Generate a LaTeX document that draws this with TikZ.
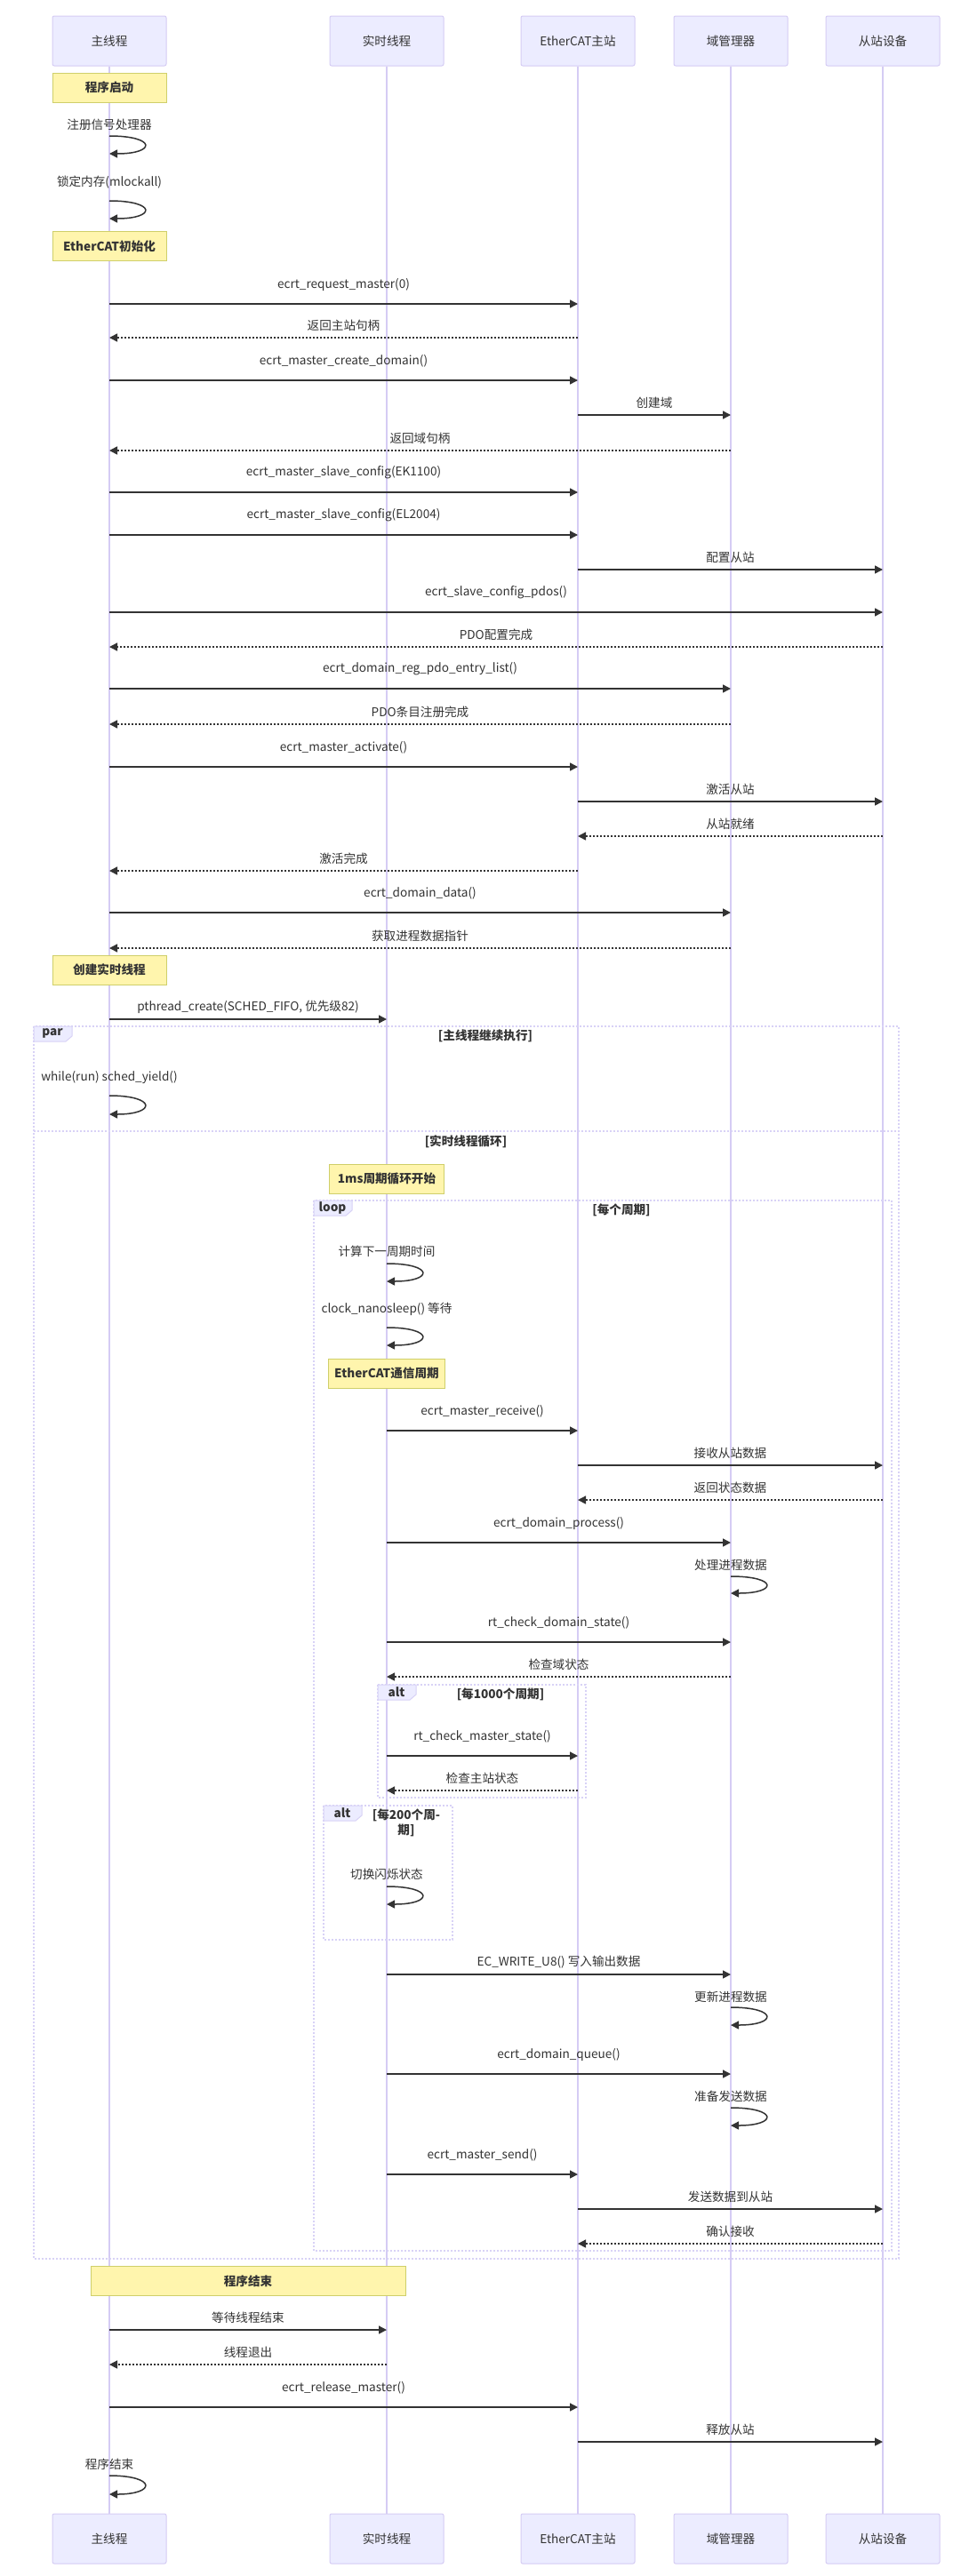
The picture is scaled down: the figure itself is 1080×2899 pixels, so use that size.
\documentclass[tikz,border=0pt]{standalone}
\usepackage{fontspec}
\setmainfont{Noto Sans CJK SC}
\usetikzlibrary{arrows.meta}
\definecolor{actorfill}{HTML}{ECECFF}
\definecolor{actorline}{HTML}{D5CCF4}
\definecolor{notefill}{HTML}{FFF5AD}
\definecolor{noteline}{HTML}{CFCF6A}
\definecolor{framecol}{HTML}{D8D2F6}
\definecolor{ink}{HTML}{333333}

\begin{document}
\begin{tikzpicture}[
        x=1pt, y=-1pt,
        every node/.style={font=\fontsize{13.6}{17}\selectfont, text=ink},
        actor/.style={draw=actorline, line width=1pt, fill=actorfill, rounded corners=2pt,
            minimum width=128pt, minimum height=56pt, inner sep=0pt},
        lifeline/.style={actorline, line width=1.2pt},
        note/.style={draw=noteline, line width=1pt, fill=notefill, minimum height=33pt, inner sep=0pt,
            font=\fontsize{13.6}{17}\selectfont\bfseries},
        msg/.style={ink, line width=1.5pt, -{Triangle[length=9pt,width=9pt]}},
        reply/.style={msg, dash pattern=on 2pt off 2pt},
        call/.style={yshift=22pt, inner sep=0pt},
        txt/.style={yshift=14pt, inner sep=0pt},
        frame/.style={framecol, line width=1.2pt, dash pattern=on 2pt off 2pt},
        tab/.style={draw=framecol, line width=1pt, fill=actorfill},
        tabtext/.style={font=\fontsize{13.6}{17}\selectfont\bfseries},
        cond/.style={align=center, inner sep=0pt, font=\fontsize{13.6}{17}\selectfont\bfseries}
    ]
        \useasboundingbox (0,0) rectangle (1080,2899);
        \fill[white] (0,0) rectangle (1080,2899);

        % Actors and lifelines
        \node[actor] (mainT) at (123,46) {主线程};
        \node[actor] (rtT) at (435,46) {实时线程};
        \node[actor] (ecmT) at (650,46) {EtherCAT主站};
        \node[actor] (domT) at (822,46) {域管理器};
        \node[actor] (slvT) at (993,46) {从站设备};
        \node[actor] (mainB) at (123,2857) {主线程};
        \node[actor] (rtB) at (435,2857) {实时线程};
        \node[actor] (ecmB) at (650,2857) {EtherCAT主站};
        \node[actor] (domB) at (822,2857) {域管理器};
        \node[actor] (slvB) at (993,2857) {从站设备};
        \draw[lifeline] (mainT) -- (mainB);
        \draw[lifeline] (rtT) -- (rtB);
        \draw[lifeline] (ecmT) -- (ecmB);
        \draw[lifeline] (domT) -- (domB);
        \draw[lifeline] (slvT) -- (slvB);

        % Frames
        \draw[frame] (38,1155) rectangle (1011,2542);
        \draw[frame] (38,1273) -- (1011,1273);
        \filldraw[tab] (38,1155) -- ++(43,0) -- ++(0,11) -- ++(-7,6) -- (38,1172) -- cycle;
        \node[tabtext] (parlbl) at (59,1163) {par};
        \node[cond] (par1) at (546,1166) {[主线程继续执行]};
        \node[cond] (par2) at (524,1285) {[实时线程循环]};

        \draw[frame] (353,1351) rectangle (1003,2533);
        \filldraw[tab] (353,1351) -- ++(43,0) -- ++(0,11) -- ++(-7,6) -- (353,1368) -- cycle;
        \node[tabtext] (looplbl) at (374,1359) {loop};
        \node[cond] (loop1) at (699,1362) {[每个周期]};

        \draw[frame] (425,1896) rectangle (659,2023);
        \filldraw[tab] (425,1896) -- ++(43,0) -- ++(0,11) -- ++(-7,6) -- (425,1913) -- cycle;
        \node[tabtext] (alt1lbl) at (446,1904) {alt};
        \node[cond] (alt1) at (563,1907) {[每1000个周期]};

        \draw[frame] (364,2032) rectangle (509,2183);
        \filldraw[tab] (364,2032) -- ++(43,0) -- ++(0,11) -- ++(-7,6) -- (364,2049) -- cycle;
        \node[tabtext] (alt2lbl) at (385,2040) {alt};
        \node[cond] (alt2) at (457,2051) {[每200个周-\\期]};

        % Notes
        \node[note, minimum width=128pt] (n1) at (123,98.5) {程序启动};
        \node[note, minimum width=128pt] (n2) at (123,277) {EtherCAT初始化};
        \node[note, minimum width=128pt] (n3) at (123,1091.5) {创建实时线程};
        \node[note, minimum width=129pt] (n4) at (435,1326.5) {1ms周期循环开始};
        \node[note, minimum width=131pt] (n5) at (435,1545.5) {EtherCAT通信周期};
        \node[note, minimum width=354pt] (n6) at (279,2567) {程序结束};

        % Startup
        \node (s1) at (123,140) {注册信号处理器};
        \draw[msg] (mainT |- 0,153) .. controls +(53,0) and +(53,0) .. (mainT |- 0,173);
        \node (s2) at (123,205) {锁定内存(mlockall)};
        \draw[msg] (mainT |- 0,226) .. controls +(53,0) and +(53,0) .. (mainT |- 0,246);

        % EtherCAT init
        \draw[msg] (mainT |- 0,342) -- node[call] (m1) {ecrt\_request\_master(0)} (ecmT |- 0,342);
        \draw[reply] (ecmT |- 0,380) -- node[txt] (m2) {返回主站句柄} (mainT |- 0,380);
        \draw[msg] (mainT |- 0,428) -- node[call] (m3) {ecrt\_master\_create\_domain()} (ecmT |- 0,428);
        \draw[msg] (ecmT |- 0,467) -- node[txt] (m4) {创建域} (domT |- 0,467);
        \draw[reply] (domT |- 0,507) -- node[txt] (m5) {返回域句柄} (mainT |- 0,507);
        \draw[msg] (mainT |- 0,554) -- node[call] (m6) {ecrt\_master\_slave\_config(EK1100)} (ecmT |- 0,554);
        \draw[msg] (mainT |- 0,602) -- node[call] (m7) {ecrt\_master\_slave\_config(EL2004)} (ecmT |- 0,602);
        \draw[msg] (ecmT |- 0,641) -- node[txt] (m8) {配置从站} (slvT |- 0,641);
        \draw[msg] (mainT |- 0,689) -- node[call] (m9) {ecrt\_slave\_config\_pdos()} (slvT |- 0,689);
        \draw[reply] (slvT |- 0,728) -- node[txt] (m10) {PDO配置完成} (mainT |- 0,728);
        \draw[msg] (mainT |- 0,775) -- node[call] (m11) {ecrt\_domain\_reg\_pdo\_entry\_list()} (domT |- 0,775);
        \draw[reply] (domT |- 0,815) -- node[txt] (m12) {PDO条目注册完成} (mainT |- 0,815);
        \draw[msg] (mainT |- 0,863) -- node[call] (m13) {ecrt\_master\_activate()} (ecmT |- 0,863);
        \draw[msg] (ecmT |- 0,902) -- node[txt] (m14) {激活从站} (slvT |- 0,902);
        \draw[reply] (slvT |- 0,941) -- node[txt] (m15) {从站就绪} (ecmT |- 0,941);
        \draw[reply] (ecmT |- 0,980) -- node[txt] (m16) {激活完成} (mainT |- 0,980);
        \draw[msg] (mainT |- 0,1027) -- node[call] (m17) {ecrt\_domain\_data()} (domT |- 0,1027);
        \draw[reply] (domT |- 0,1067) -- node[txt] (m18) {获取进程数据指针} (mainT |- 0,1067);
        \draw[msg] (mainT |- 0,1147) -- node[txt] (m19) {pthread\_create(SCHED\_FIFO, 优先级82)} (rtT |- 0,1147);

        % par: main thread
        \node (s3) at (123,1213) {while(run) sched\_yield()};
        \draw[msg] (mainT |- 0,1233) .. controls +(53,0) and +(53,0) .. (mainT |- 0,1254);

        % par: realtime loop
        \node (s4) at (435,1408) {计算下一周期时间};
        \draw[msg] (rtT |- 0,1422) .. controls +(53,0) and +(53,0) .. (rtT |- 0,1442);
        \node (s5) at (435,1473) {clock\_nanosleep() 等待};
        \draw[msg] (rtT |- 0,1494) .. controls +(53,0) and +(53,0) .. (rtT |- 0,1514);
        \draw[msg] (rtT |- 0,1610) -- node[call] (m20) {ecrt\_master\_receive()} (ecmT |- 0,1610);
        \draw[msg] (ecmT |- 0,1649) -- node[txt] (m21) {接收从站数据} (slvT |- 0,1649);
        \draw[reply] (slvT |- 0,1688) -- node[txt] (m22) {返回状态数据} (ecmT |- 0,1688);
        \draw[msg] (rtT |- 0,1736) -- node[call] (m23) {ecrt\_domain\_process()} (domT |- 0,1736);
        \node (s6) at (822,1761) {处理进程数据};
        \draw[msg] (domT |- 0,1774) .. controls +(53,0) and +(53,0) .. (domT |- 0,1793);
        \draw[msg] (rtT |- 0,1848) -- node[call] (m24) {rt\_check\_domain\_state()} (domT |- 0,1848);
        \draw[reply] (domT |- 0,1887) -- node[txt] (m25) {检查域状态} (rtT |- 0,1887);
        \draw[msg] (rtT |- 0,1976) -- node[call] (m26) {rt\_check\_master\_state()} (ecmT |- 0,1976);
        \draw[reply] (ecmT |- 0,2015) -- node[txt] (m27) {检查主站状态} (rtT |- 0,2015);
        \node (s7) at (435,2109) {切换闪烁状态};
        \draw[msg] (rtT |- 0,2123) .. controls +(53,0) and +(53,0) .. (rtT |- 0,2143);
        \draw[msg] (rtT |- 0,2222) -- node[txt] (m28) {EC\_WRITE\_U8() 写入输出数据} (domT |- 0,2222);
        \node (s8) at (822,2247) {更新进程数据};
        \draw[msg] (domT |- 0,2259) .. controls +(53,0) and +(53,0) .. (domT |- 0,2279);
        \draw[msg] (rtT |- 0,2334) -- node[call] (m29) {ecrt\_domain\_queue()} (domT |- 0,2334);
        \node (s9) at (822,2359) {准备发送数据};
        \draw[msg] (domT |- 0,2372) .. controls +(53,0) and +(53,0) .. (domT |- 0,2392);
        \draw[msg] (rtT |- 0,2447) -- node[call] (m30) {ecrt\_master\_send()} (ecmT |- 0,2447);
        \draw[msg] (ecmT |- 0,2486) -- node[txt] (m31) {发送数据到从站} (slvT |- 0,2486);
        \draw[reply] (slvT |- 0,2525) -- node[txt] (m32) {确认接收} (ecmT |- 0,2525);

        % Shutdown
        \draw[msg] (mainT |- 0,2622) -- node[txt] (m33) {等待线程结束} (rtT |- 0,2622);
        \draw[reply] (rtT |- 0,2661) -- node[txt] (m34) {线程退出} (mainT |- 0,2661);
        \draw[msg] (mainT |- 0,2709) -- node[call] (m35) {ecrt\_release\_master()} (ecmT |- 0,2709);
        \draw[msg] (ecmT |- 0,2748) -- node[txt] (m36) {释放从站} (slvT |- 0,2748);
        \node (s10) at (123,2773) {程序结束};
        \draw[msg] (mainT |- 0,2786) .. controls +(53,0) and +(53,0) .. (mainT |- 0,2807);
    \end{tikzpicture}
\end{document}
